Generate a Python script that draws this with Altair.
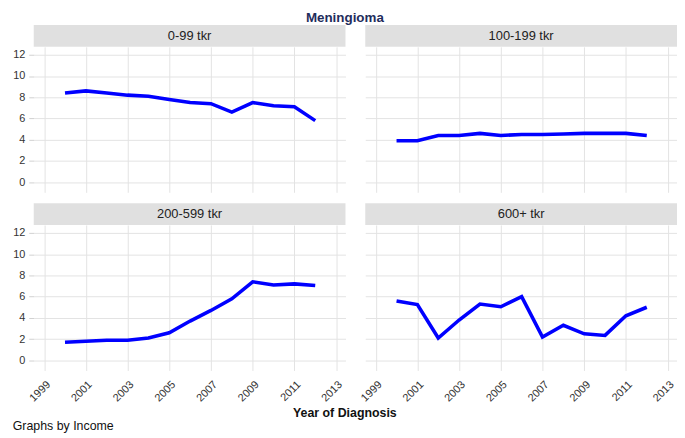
import altair as alt
import pandas as pd

years = list(range(2000, 2013))
panel_names = ["0-99 tkr", "100-199 tkr", "200-599 tkr", "600+ tkr"]
rate_0_99 = [8.4, 8.6, 8.4, 8.2, 8.1, 7.8, 7.5, 7.4, 6.6, 7.5, 7.2, 7.1, 5.8]
rate_100_199 = [3.9, 3.9, 4.4, 4.4, 4.6, 4.4, 4.5, 4.5, 4.55, 4.6, 4.6, 4.6, 4.4]
rate_200_599 = [1.7, 1.8, 1.9, 1.9, 2.1, 2.6, 3.7, 4.7, 5.8, 7.4, 7.1, 7.2, 7.05]
rate_600 = [5.6, 5.25, 2.1, 3.8, 5.3, 5.05, 6.0, 2.2, 3.3, 2.5, 2.35, 4.2, 5.0]
x_ticks = [1999, 2001, 2003, 2005, 2007, 2009, 2011, 2013]
y_ticks = [0, 2, 4, 6, 8, 10, 12]

FONT = "Liberation Sans"
W = 315
H = 147
STRIP = 22


def panel(name, vals, bottom, left):
    df = pd.DataFrame({"year": years, "rate": vals})
    xaxis = alt.Axis(
        values=x_ticks, format="d", grid=True, labels=bottom, ticks=False,
        domain=False, labelAngle=315, title=None, labelFont=FONT,
        labelFontSize=11, labelColor="#333333", labelPadding=8,
        gridColor="#e3e3e3", labelFlush=False, labelOverlap=False,
        labelBound=False,
    )
    yaxis = alt.Axis(
        values=y_ticks, labels=left, ticks=left, tickSize=5, domain=False,
        title=None, labelFont=FONT, labelFontSize=11, labelColor="#333333",
        tickColor="#d0d0d0", gridColor="#e3e3e3", labelPadding=4,
    )
    line = alt.Chart(df).mark_line(color="#0000ff", strokeWidth=3.6).encode(
        x=alt.X("year:Q", scale=alt.Scale(domain=[1998.5, 2013.45], nice=False, zero=False), axis=xaxis),
        y=alt.Y("rate:Q", scale=alt.Scale(domain=[-0.95, 12.75], nice=False, zero=False), axis=yaxis),
    )
    sdf = pd.DataFrame({"label": [name]})
    rect = alt.Chart(sdf).mark_rect(color="#e0e0e0").encode(
        x=alt.value(0), x2=alt.value(W), y=alt.value(-STRIP), y2=alt.value(0)
    )
    text = alt.Chart(sdf).mark_text(font=FONT, fontSize=13, color="#222222").encode(
        x=alt.value(W / 2), y=alt.value(-STRIP / 2), text="label:N"
    )
    return alt.layer(rect, text, line).properties(width=W, height=H)


grid = alt.concat(
    panel(panel_names[0], rate_0_99, False, True),
    panel(panel_names[1], rate_100_199, False, False),
    panel(panel_names[2], rate_200_599, True, True),
    panel(panel_names[3], rate_600, True, False),
    columns=2,
    spacing={"row": 11, "column": 13},
).properties(
    title=alt.TitleParams("Year of Diagnosis", orient="bottom", anchor="middle",
                          font=FONT, fontSize=12.5, fontWeight="bold", color="#111111", offset=4)
)
mid = alt.vconcat(grid).properties(
    title=alt.TitleParams("Graphs by Income", orient="bottom", anchor="start",
                          font=FONT, fontSize=12.5, fontWeight="normal", color="#111111", offset=1)
)
chart = alt.vconcat(mid).properties(
    title=alt.TitleParams("Meningioma", anchor="middle", font=FONT, fontSize=13.5,
                          fontWeight="bold", color="#1f2d5c", offset=1),
    padding={"left": 4, "top": 0, "right": 0, "bottom": 0},
    background="white",
).configure_view(strokeWidth=0, stroke="transparent")

chart.save("out.html", embed_options={"renderer": "svg", "actions": False})
